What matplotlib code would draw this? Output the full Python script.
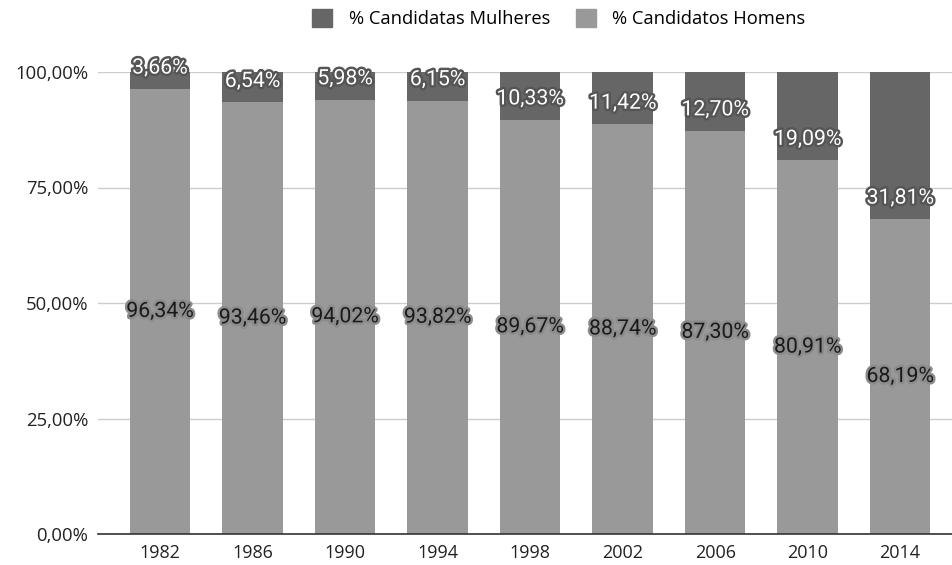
import matplotlib
matplotlib.use("Agg")
import matplotlib.pyplot as plt
import matplotlib.patheffects as pe
from matplotlib.patches import Patch
import numpy as np

years = ["1982", "1986", "1990", "1994", "1998", "2002", "2006", "2010", "2014"]
mulheres = [3.66, 6.54, 5.98, 6.15, 10.33, 11.42, 12.70, 19.09, 31.81]
homens = [96.34, 93.46, 94.02, 93.82, 89.67, 88.74, 87.30, 80.91, 68.19]
y_ticks = [0, 25, 50, 75, 100]
y_tick_labels = ["0,00%", "25,00%", "50,00%", "75,00%", "100,00%"]
series_names = ["% Candidatas Mulheres", "% Candidatos Homens"]

c_dark = "#666666"
c_light = "#999999"

W, H = 952, 565
fig = plt.figure(figsize=(W / 100, H / 100), dpi=100)
ax = fig.add_axes([98 / W, 31 / H, (W - 98) / W, (534 - 72) / H])

x = np.arange(len(years))
ax.bar(x, homens, width=0.655, color=c_light, zorder=2)
ax.bar(x, mulheres, bottom=homens, width=0.655, color=c_dark, zorder=2)

ax.set_xlim(-0.67, 8.56)
ax.set_ylim(0, 100)
ax.set_yticks(y_ticks)
ax.set_yticklabels(y_tick_labels, fontfamily="Open Sans", fontsize=13.3, color="#222222")
ax.set_xticks(x)
ax.set_xticklabels(years, fontfamily="Open Sans", fontsize=13, color="#222222")
ax.tick_params(axis="both", length=0)
ax.tick_params(axis="y", pad=7)
ax.tick_params(axis="x", pad=7)
ax.grid(axis="y", color="#cccccc", linewidth=1, zorder=0)
for s in ["left", "right", "top"]:
    ax.spines[s].set_visible(False)
ax.spines["bottom"].set_color("#333333")
ax.spines["bottom"].set_linewidth(1.2)
ax.spines["bottom"].set_zorder(3)

for i in range(len(years)):
    ax.annotate(f"{homens[i]:.2f}%".replace(".", ","), (x[i], homens[i] / 2),
                ha="center", va="center", fontsize=15.3, fontfamily="Roboto",
                color="#1a1a1a", zorder=5, annotation_clip=False,
                path_effects=[pe.withStroke(linewidth=3.5, foreground="#8c8c8c")])
    ax.annotate(f"{mulheres[i]:.2f}%".replace(".", ","), (x[i], homens[i]),
                xytext=(0, 15), textcoords="offset points",
                ha="center", va="center", fontsize=15.3, fontfamily="Roboto",
                color="white", zorder=5, annotation_clip=False,
                path_effects=[pe.withStroke(linewidth=3.5, foreground="#555555")])

handles = [Patch(facecolor=c_dark, edgecolor=c_dark), Patch(facecolor=c_light, edgecolor=c_light)]
fig.legend(handles, series_names, loc="upper left", bbox_to_anchor=(312 / W, 1 - 9 / H),
           ncol=2, frameon=False, handlelength=1.1, handleheight=1.1,
           handletextpad=0.9, columnspacing=1.4, borderpad=0, borderaxespad=0,
           prop={"family": "Open Sans", "size": 13.2})

fig.savefig("out.png", dpi=100)
